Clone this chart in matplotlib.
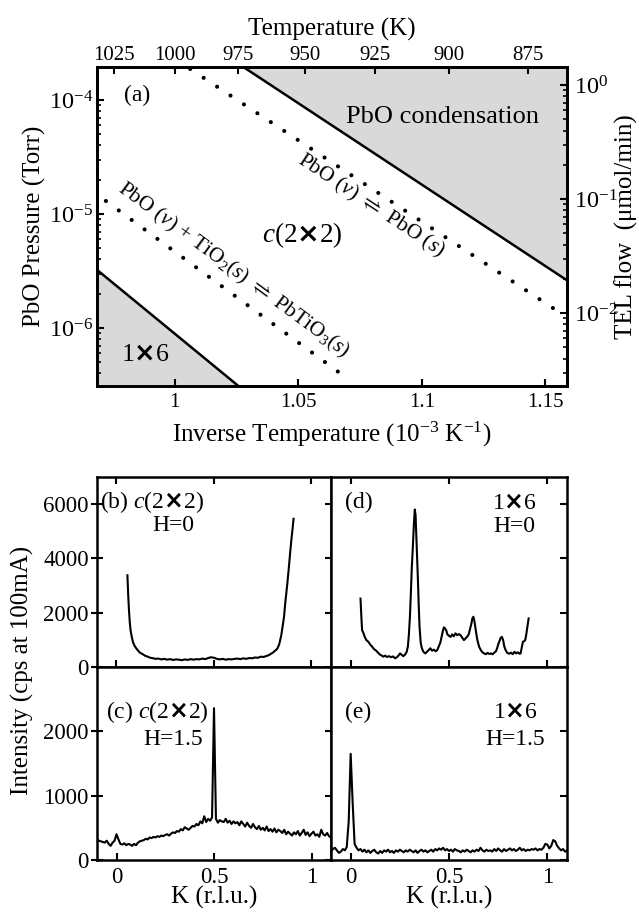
import numpy as np
import matplotlib.pyplot as plt
from matplotlib.ticker import NullFormatter

plt.rcParams['font.family'] = ['Liberation Serif', 'DejaVu Sans']
plt.rcParams['mathtext.fontset'] = 'custom'
plt.rcParams['mathtext.rm'] = 'Liberation Serif'
plt.rcParams['mathtext.it'] = 'Liberation Serif:italic'
plt.rcParams['mathtext.bf'] = 'DejaVu Sans:bold'
plt.rcParams['mathtext.fallback'] = 'stix'
plt.rcParams['axes.linewidth'] = 1.8
plt.rcParams['xtick.direction'] = 'in'
plt.rcParams['ytick.direction'] = 'in'

# ---- panel (a): phase diagram ----
inv_lim = (0.9686, 1.1587)          # 10^-3 K^-1
p_lim = (10 ** -6.509, 10 ** -3.7105)  # Torr
tel_factor = 10 ** 3.87             # TEL flow / PbO pressure

cond_x = [1.0278, 1.1587]           # PbO condensation boundary
cond_p = [10 ** -3.7105, 10 ** -5.582]
r16_x = [0.9686, 1.0258]            # 1x6 boundary
r16_p = [10 ** -5.49, 10 ** -6.509]

pbo_x = [1.0063, 1.1530]            # PbO(v) <-> PbO(s), dotted
pbo_p = [10 ** -3.728, 10 ** -5.825]
pbo_n = 28
pto_x = [0.9722, 1.0712]            # PbO(v)+TiO2(s) <-> PbTiO3(s), dotted
pto_p = [10 ** -4.886, 10 ** -6.465]
pto_n = 20

temp_ticks = [1025, 1000, 975, 950, 925, 900, 875]
inv_ticks = [1, 1.05, 1.1, 1.15]
inv_labels = ['1', '1.05', '1.1', '1.15']

# ---- panel (b): c(2x2), H=0 ----
kb = [1.056, 1.060, 1.064, 1.068, 1.072, 1.078, 1.084, 1.092, 1.101, 1.110,
      1.118, 1.127, 1.135, 1.145, 1.160, 1.170, 1.180, 1.190, 1.200, 1.215,
      1.230, 1.245, 1.260, 1.275, 1.290, 1.305, 1.320, 1.335, 1.350, 1.365,
      1.380, 1.395, 1.410, 1.425, 1.440, 1.455, 1.470, 1.485, 1.500, 1.515,
      1.530, 1.545, 1.560, 1.575, 1.590, 1.605, 1.620, 1.635, 1.650, 1.665,
      1.680, 1.695, 1.710, 1.725, 1.740, 1.755, 1.770, 1.780, 1.790, 1.800,
      1.810, 1.820, 1.826, 1.835, 1.845, 1.852, 1.859, 1.866, 1.876, 1.883,
      1.890, 1.897, 1.903, 1.908]
ib = [3380, 2650, 2090, 1650, 1360, 1120, 930, 790, 690, 610,
      540, 500, 470, 420, 380, 350, 330, 320, 300, 310,
      280, 300, 270, 290, 260, 280, 270, 250, 280, 260,
      290, 270, 290, 280, 310, 290, 330, 360, 340, 300,
      280, 300, 270, 290, 280, 300, 310, 290, 320, 300,
      330, 320, 350, 340, 380, 370, 410, 430, 480, 520,
      580, 640, 690, 850, 1170, 1500, 1850, 2400, 3070, 3600,
      4170, 4700, 5100, 5460]

# ---- panel (c): c(2x2), H=1.5 (scan -0.1..1.1, step 0.01) ----
kc_range = (-0.1, 1.1)
ic = [320, 300, 290, 280, 270, 300, 250, 220, 270, 300,
      400, 320, 250, 240, 260, 230, 250, 240, 220, 250,
      230, 270, 290, 300, 310, 330, 320, 350, 340, 360,
      350, 370, 360, 380, 370, 390, 400, 380, 410, 430,
      420, 450, 440, 480, 460, 510, 490, 470, 500, 530,
      520, 560, 540, 600, 570, 680, 590, 640, 610, 660,
      2360, 640, 580, 620, 600, 590, 640, 580, 610, 560,
      600, 570, 590, 540, 600, 560, 520, 580, 530, 500,
      560, 510, 480, 530, 470, 500, 460, 520, 450, 480,
      440, 490, 430, 470, 450, 420, 470, 400, 440, 410,
      380, 430, 400, 450, 380, 420, 470, 390, 430, 370,
      410, 440, 380, 400, 360, 470, 400, 380, 420, 370,
      350]

# ---- panel (d): 1x6, H=0 ----
kd = [1.050, 1.054, 1.058, 1.065, 1.072, 1.080, 1.090, 1.100, 1.108, 1.115,
      1.122, 1.130, 1.140, 1.148, 1.156, 1.166, 1.175, 1.185, 1.195, 1.205,
      1.215, 1.226, 1.235, 1.243, 1.251, 1.259, 1.268, 1.277, 1.285, 1.291,
      1.296, 1.301, 1.306, 1.311, 1.316, 1.321, 1.326, 1.330, 1.334, 1.338,
      1.342, 1.346, 1.350, 1.356, 1.362, 1.370, 1.379, 1.388, 1.396, 1.405,
      1.414, 1.423, 1.432, 1.440, 1.448, 1.456, 1.462, 1.468, 1.474, 1.480,
      1.486, 1.492, 1.500, 1.508, 1.516, 1.524, 1.533, 1.541, 1.550, 1.559,
      1.567, 1.576, 1.584, 1.593, 1.600, 1.607, 1.614, 1.619, 1.624, 1.629,
      1.636, 1.644, 1.653, 1.662, 1.670, 1.679, 1.688, 1.696, 1.705, 1.713,
      1.722, 1.730, 1.739, 1.745, 1.751, 1.757, 1.763, 1.769, 1.775, 1.781,
      1.788, 1.796, 1.807, 1.815, 1.824, 1.833, 1.842, 1.850, 1.858, 1.864,
      1.870, 1.876, 1.882, 1.888, 1.894, 1.900, 1.905]
id_ = [2520, 1900, 1360, 1250, 1100, 990, 930, 820, 760, 690,
       640, 600, 520, 460, 430, 380, 420, 370, 400, 360,
       390, 320, 360, 420, 500, 450, 400, 460, 560, 760,
       1200, 1800, 2700, 3700, 4400, 5200, 5800, 5600, 4800, 4000,
       3200, 2300, 1500, 900, 690, 560, 500, 560, 620, 690,
       600, 640, 580, 620, 760, 900, 1100, 1300, 1460, 1420,
       1350, 1200, 1150, 1110, 1200, 1130, 1240, 1170, 1210, 1170,
       1080, 990, 1050, 1120, 1200, 1400, 1600, 1800, 1850, 1700,
       1360, 1000, 750, 620, 540, 500, 470, 520, 480, 500,
       470, 530, 580, 700, 850, 960, 1080, 1110, 1000, 760,
       620, 520, 490, 530, 470, 560, 500, 540, 490, 500,
       720, 930, 950, 1000, 1250, 1550, 1790]

# ---- panel (e): 1x6, H=1.5 (scan -0.1..1.1, step 0.01) ----
ke_range = (-0.1, 1.1)
ie = [140, 170, 190, 150, 110, 130, 170, 150, 200, 600,
      1650, 900, 250, 190, 150, 170, 130, 160, 120, 150,
      110, 140, 160, 120, 100, 140, 110, 150, 130, 160,
      120, 140, 110, 150, 130, 160, 140, 120, 150, 130,
      160, 140, 120, 150, 110, 140, 160, 130, 150, 120,
      140, 160, 130, 170, 150, 180, 160, 190, 150, 170,
      140, 160, 130, 170, 150, 140, 120, 150, 130, 160,
      140, 120, 150, 130, 160, 140, 190, 150, 130, 160,
      140, 150, 130, 170, 140, 180, 150, 130, 170, 140,
      160, 180, 150, 170, 140, 160, 190, 150, 170, 140,
      160, 150, 170, 160, 180, 150, 170, 160, 190, 250,
      240, 180, 220, 310, 290, 220, 180, 150, 170, 130,
      150]

W, H = 639, 913
GRAY = '#d9d9d9'


def rect(l, t, r, b):
    return [l / W, 1 - b / H, (r - l) / W, (b - t) / H]


def dotted(ax, x, p, n, lw=3.0):
    pts = ax.transData.transform(np.column_stack([x, p]))
    length = np.hypot(*(pts[1] - pts[0])) * 72 / ax.figure.dpi
    period = length / (n - 1) / lw
    ax.plot(x, p, color='k', lw=lw, ls=(0, (0.001, period - 0.001)),
            dash_capstyle='round')


def angle(ax, x, p):
    pts = ax.transData.transform(np.column_stack([x, p]))
    d = pts[1] - pts[0]
    return np.degrees(np.arctan2(d[1], d[0]))


fig = plt.figure(figsize=(W / 100, H / 100), dpi=100)

# ================= panel (a) =================
ax = fig.add_axes(rect(97, 67, 567, 386))
ax.set_xlim(inv_lim)
ax.set_yscale('log')
ax.set_ylim(p_lim)

ax.fill_between(cond_x, cond_p, p_lim[1], color=GRAY, lw=0)
ax.plot(cond_x, cond_p, color='k', lw=1.8)
ax.fill_between(r16_x, p_lim[0], r16_p, color=GRAY, lw=0)
ax.plot(r16_x, r16_p, color='k', lw=1.8)
dotted(ax, pbo_x, pbo_p, pbo_n)
dotted(ax, pto_x, pto_p, pto_n)

rot1 = angle(ax, pbo_x, pbo_p)
rot2 = angle(ax, pto_x, pto_p)
ax.text(1.0793, 10 ** -4.93, r'PbO ($v$) $\rightleftharpoons$ PbO ($s$)',
        fontsize=15.5, rotation=rot1, rotation_mode='anchor',
        ha='center', va='center')
ax.text(1.0237, 10 ** -5.49,
        r'PbO ($v$) + TiO$_2$($s$) $\rightleftharpoons$ PbTiO$_3$($s$)',
        fontsize=15.5, rotation=rot2, rotation_mode='anchor',
        ha='center', va='center')
ax.text(1.0517, 10 ** -5.184, r'$c$(2$\mathbf{\times}$2)', fontsize=19.5,
        ha='center', va='center')
ax.text(1.1084, 10 ** -4.149, 'PbO condensation', fontsize=19,
        ha='center', va='center')
ax.text(0.9881, 10 ** -6.237, r'1$\mathbf{\times}$6', fontsize=18.5,
        ha='center', va='center')
ax.text(0.9848, 10 ** -3.956, '(a)', fontsize=17, ha='center', va='center')

ax.set_xticks(inv_ticks)
ax.set_xticklabels(inv_labels)
ax.yaxis.set_minor_formatter(NullFormatter())
ax.tick_params(axis='x', labelsize=15, length=5, width=1.5, pad=5)
ax.tick_params(axis='y', which='major', labelsize=17.5, length=5, width=1.5, pad=3)
ax.tick_params(axis='y', which='minor', length=3, width=1.2)
ax.set_xlabel(r'Inverse Temperature (10$^{-3}$ K$^{-1}$)', fontsize=18)
ax.xaxis.set_label_coords(0.5, -0.107)
ax.xaxis.label.set_va('top')
ax.set_ylabel('PbO Pressure (Torr)', fontsize=18)
ax.yaxis.set_label_coords(-0.1085, 0.5)

top = ax.twiny()
top.set_xlim(inv_lim)
top.set_xticks([1000 / t for t in temp_ticks])
top.set_xticklabels([str(t) for t in temp_ticks])
top.tick_params(axis='x', labelsize=15, length=5, width=1.5, pad=1.5)
top.set_xlabel('Temperature (K)', fontsize=18)
top.xaxis.set_label_coords(0.5, 1.081)
top.xaxis.label.set_va('bottom')

rax = ax.twinx()
rax.set_yscale('log')
rax.set_ylim(p_lim[0] * tel_factor, p_lim[1] * tel_factor)
rax.yaxis.set_minor_formatter(NullFormatter())
rax.tick_params(axis='y', which='major', labelsize=17.5, length=5, width=1.5, pad=5)
rax.tick_params(axis='y', which='minor', length=3, width=1.2)
rax.set_ylabel('TEL flow  (μmol/min)', fontsize=18)
rax.yaxis.set_label_coords(1.102, 0.5)
rax.yaxis.label.set_va('top')

# ================= panels (b)-(e) =================
axb = fig.add_axes(rect(97, 477, 331, 667))
axd = fig.add_axes(rect(331, 477, 567, 667))
axc = fig.add_axes(rect(97, 667, 331, 860))
axe = fig.add_axes(rect(331, 667, 567, 860))

kc = np.linspace(kc_range[0], kc_range[1], len(ic))
ke = np.linspace(ke_range[0], ke_range[1], len(ie))

axb.plot(kb, ib, color='k', lw=1.5)
axd.plot(kd, id_, color='k', lw=1.5)
axc.plot(kc, ic, color='k', lw=1.5)
axe.plot(ke, ie, color='k', lw=1.5)

for a in (axb, axd):
    a.set_xlim(0.9, 2.1)
    a.set_ylim(0, 7000)
    a.set_xticks([1, 1.5, 2])
    a.set_xticklabels(['1', '1.5', '2'])
    a.set_yticks([0, 2000, 4000, 6000])
    a.tick_params(axis='x', top=True, bottom=True)
for a in (axc, axe):
    a.set_xlim(-0.1, 1.1)
    a.set_ylim(0, 3000)
    a.set_xticks([0, 0.5, 1])
    a.set_xticklabels(['0', '0.5', '1'])
    a.set_yticks([0, 1000, 2000])
    a.tick_params(axis='x', top=False, bottom=True)
    a.set_xlabel('K (r.l.u.)', fontsize=18)
    a.xaxis.set_label_coords(0.5, -0.135)
    a.xaxis.label.set_va('top')

for a in (axb, axd, axc, axe):
    a.tick_params(axis='x', labelsize=16.5, length=5, width=1.5, pad=5)
for a in (axb, axc):
    a.tick_params(axis='y', left=True, right=True, direction='inout',
                  length=9, width=1.5, labelsize=16.5, pad=1.5)
for a in (axd, axe):
    a.tick_params(axis='y', left=False, right=True, labelleft=False,
                  length=5, width=1.5)

axb.text(0.013, 0.866, r'(b) $c$(2$\mathbf{\times}$2)', transform=axb.transAxes,
         fontsize=17, ha='left', va='center')
axb.text(0.325, 0.745, 'H=0', transform=axb.transAxes, fontsize=17,
         ha='center', va='center')
axc.text(0.038, 0.765, r'(c) $c$(2$\mathbf{\times}$2)', transform=axc.transAxes,
         fontsize=17, ha='left', va='center')
axc.text(0.325, 0.622, 'H=1.5', transform=axc.transAxes, fontsize=17,
         ha='center', va='center')
axd.text(0.059, 0.866, '(d)', transform=axd.transAxes, fontsize=17,
         ha='left', va='center')
axd.text(0.775, 0.858, r'1$\mathbf{\times}$6', transform=axd.transAxes,
         fontsize=17, ha='center', va='center')
axd.text(0.775, 0.742, 'H=0', transform=axd.transAxes, fontsize=17,
         ha='center', va='center')
axe.text(0.059, 0.765, '(e)', transform=axe.transAxes, fontsize=17,
         ha='left', va='center')
axe.text(0.78, 0.765, r'1$\mathbf{\times}$6', transform=axe.transAxes,
         fontsize=17, ha='center', va='center')
axe.text(0.78, 0.622, 'H=1.5', transform=axe.transAxes, fontsize=17,
         ha='center', va='center')

fig.text(22 / W, 1 - 670 / H, 'Intensity (cps at 100mA)', fontsize=18,
         rotation=90, ha='center', va='center')

fig.savefig('out.png', dpi=100)
